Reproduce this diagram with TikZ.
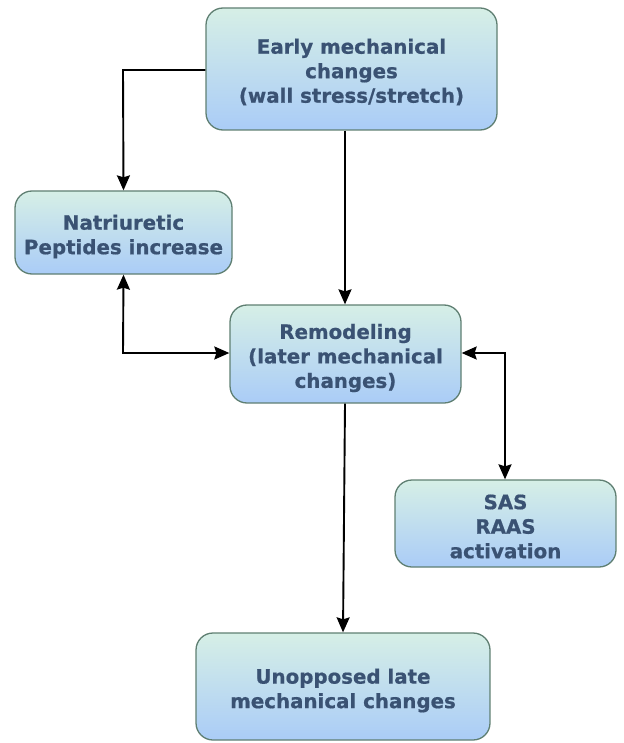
\documentclass[tikz,border=0pt]{standalone}
\usepackage{fontspec}
\setmainfont{DejaVu Sans}[BoldFeatures={FakeBold=0.7}]
\usetikzlibrary{arrows.meta,calc}
\definecolor{txt}{HTML}{3A5273}
\definecolor{topc}{HTML}{D6EFE6}
\definecolor{botc}{HTML}{AACCF7}
\definecolor{edge}{HTML}{5F7F72}
\tikzset{
  box/.style={draw=edge,line width=1.3pt,rounded corners=17pt,
    top color=topc,bottom color=botc,inner sep=0pt},
  lbl/.style={text=txt,font=\fontsize{19.8}{24.5}\selectfont\bfseries,
    align=center,inner sep=0pt},
  tip/.tip={Stealth[length=15pt,width=13pt,inset=2pt]},
  conn/.style={line width=1.9pt,draw=black,-tip},
  dconn/.style={line width=1.9pt,draw=black,tip-tip}
}
\begin{document}
\begin{tikzpicture}[x=1pt,y=-1pt]
\useasboundingbox (0,0) rectangle (623,743);
\node[box,minimum width=291pt,minimum height=122pt] (early) at (351.5,69) {};
\node[box,minimum width=217pt,minimum height=83pt] (nat) at (123.5,232.5) {};
\node[box,minimum width=231pt,minimum height=98pt] (rem) at (345.5,354) {};
\node[box,minimum width=221pt,minimum height=87pt] (sas) at (505.5,523.5) {};
\node[box,minimum width=294pt,minimum height=107pt] (unop) at (343,686.5) {};
\node[lbl] (earlyT) at ($(early.center)+(0,3)$) {Early mechanical\\changes\\(wall stress/stretch)};
\node[lbl] (natT) at ($(nat.center)+(0,4)$) {Natriuretic\\Peptides increase};
\node[lbl] (remT) at ($(rem.center)+(0,4)$) {Remodeling\\(later mechanical\\changes)};
\node[lbl] (sasT) at ($(sas.center)+(0,3)$) {SAS\\RAAS\\activation};
\node[lbl] (unopT) at ($(unop.center)+(0,4)$) {Unopposed late\\mechanical changes};
\coordinate (c1) at (123,70);
\coordinate (c2) at (123,353);
\coordinate (c3) at (505,353);
\draw[conn] (early.west |- 0,70) -- (c1) -- (nat.north);
\draw[conn] (early.south -| 345,0) -- (rem.north -| 345,0);
\draw[dconn] (nat.south) -- (c2) -- (rem.west |- c2);
\draw[dconn] (rem.east |- c3) -- (c3) -- (sas.north -| c3);
\draw[conn] (rem.south -| 345,0) -- (unop.north -| 343,0);
\end{tikzpicture}
\end{document}
